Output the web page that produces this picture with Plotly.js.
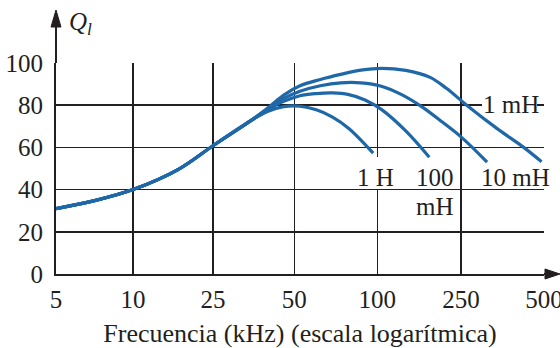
<!DOCTYPE html>
<html>
<head>
<meta charset="utf-8">
<script src="https://cdn.plot.ly/plotly-3.0.1.min.js"></script>
<style>html,body{margin:0;padding:0;background:#fff;}#chart{width:560px;height:348px;}</style>
</head>
<body>
<div id="chart"></div>
<script>
// Frequency tick labels (kHz); positions as drawn in the reference (nearly equal steps)
const freqLabels = ['5', '10', '25', '50', '100', '250', '500'];
const freqPos = [0, 0.947, 1.93, 2.93, 3.95, 4.98, 6];
const qTicks = [0, 20, 40, 60, 80, 100];

// Common rising part (position on frequency scale, Q)
const commonPos = [0, 0.5, 0.947, 1.5, 1.93, 2.4];
const commonQ   = [31, 35, 40, 49.5, 60.8, 72.8];

// Branches per inductance
const pos1H   = [2.6, 2.8, 3.0, 3.2, 3.4, 3.6, 3.9];
const q1H     = [77, 79.3, 79.5, 77.8, 74.4, 69, 57.3];

const pos100mH = [2.6, 2.8, 3.0, 3.2, 3.4, 3.6, 3.8, 4.0, 4.3, 4.59];
const q100mH   = [77.8, 81.8, 84.5, 85.5, 85.8, 85, 82.5, 78, 67.8, 55.3];

const pos10mH = [2.6, 2.8, 3.0, 3.25, 3.5, 3.75, 4.0, 4.25, 4.5, 4.75, 5.0, 5.3];
const q10mH   = [78.2, 83.2, 86.6, 89.2, 90.6, 90.6, 89, 85, 79.2, 72, 64.3, 53];

const pos1mH = [2.6, 2.8, 3.0, 3.25, 3.5, 3.75, 4.0, 4.3, 4.6, 4.8, 5.05, 5.42, 5.75, 5.97];
const q1mH   = [78.6, 84.8, 89.2, 92.2, 94.6, 96.6, 97.5, 96.5, 93.2, 88, 80, 69, 60, 53.2];

const labels = ['1 mH', '1 H', '100', 'mH', '10 mH'];
const labelPos = [5.6, 3.93, 4.66, 4.66, 5.65];
const labelQ = [80.5, 45.7, 45.7, 32.2, 45.7];

const blue = '#1f68a8';
const ink = '#231f20';
const fontFam = 'Liberation Serif, Times New Roman, serif';

function series(p, q) {
  return {
    x: commonPos.concat(p),
    y: commonQ.concat(q),
    type: 'scatter',
    mode: 'lines',
    line: {color: blue, width: 3.2, shape: 'spline', smoothing: 1},
    hoverinfo: 'skip'
  };
}

const data = [
  series(pos1mH, q1mH),
  series(pos10mH, q10mH),
  series(pos100mH, q100mH),
  series(pos1H, q1H)
];

// plot area in pixels: left 56, right 544, top 63, bottom 274
const L = 56, R = 544, T = 63, B = 274, W = 560, H = 348;
const px = v => (v - L) / (R - L);
const py = v => (B - v) / (B - T);

const annotations = labels.map((t, i) => ({
  x: labelPos[i], y: labelQ[i], xref: 'x', yref: 'y',
  text: t, showarrow: false,
  font: {family: fontFam, size: 25, color: ink},
  xanchor: 'center', yanchor: 'middle'
}));
annotations.push({
  x: px(67), y: py(24), xref: 'paper', yref: 'paper',
  text: '<i>Q</i><sub><i>l</i></sub>', showarrow: false,
  xanchor: 'left', yanchor: 'middle',
  font: {family: fontFam, size: 25, color: ink}
});

function cover(x0, x1, y0, y1) {
  return {type: 'rect', layer: 'above', xref: 'paper', yref: 'paper',
          x0: px(x0), x1: px(x1), y0: py(y1), y1: py(y0),
          fillcolor: '#ffffff', line: {width: 0}};
}

const shapes = [
  // gaps in the grid behind the curve labels
  cover(482, 537, 101, 110),
  cover(374, 381, 157, 189),
  cover(539, 549, 167, 188),
  // y axis extension
  {type: 'line', xref: 'paper', yref: 'paper', x0: 0, x1: 0, y0: 1, y1: py(22),
   line: {color: ink, width: 2}},
  {type: 'path', xref: 'paper', yref: 'paper',
   path: `M ${px(51)} ${py(27)} L ${px(56)} ${py(10)} L ${px(61)} ${py(27)} Z`,
   fillcolor: ink, line: {color: ink, width: 1}},
  // x axis extension
  {type: 'line', xref: 'paper', yref: 'paper', x0: 1, x1: px(550), y0: 0, y1: 0,
   line: {color: ink, width: 2}},
  {type: 'path', xref: 'paper', yref: 'paper',
   path: `M ${px(545)} ${py(269)} L ${px(560)} ${py(274)} L ${px(545)} ${py(279)} Z`,
   fillcolor: ink, line: {color: ink, width: 1}}
];

const layout = {
  width: W, height: H,
  margin: {l: L, r: W - R, t: T, b: H - B, pad: 0},
  paper_bgcolor: '#ffffff', plot_bgcolor: '#ffffff',
  showlegend: false,
  font: {family: fontFam, size: 25, color: ink},
  xaxis: {
    range: [0, 6], tickmode: 'array', tickvals: freqPos, ticktext: freqLabels,
    showgrid: true, gridcolor: ink, gridwidth: 1.5,
    zeroline: false, showline: true, linecolor: ink, linewidth: 2,
    ticks: '', ticklabelstandoff: 2, ticklabeloverflow: 'allow',
    tickfont: {family: fontFam, size: 25, color: ink},
    title: {text: 'Frecuencia (kHz) (escala logarítmica)', standoff: 13,
            font: {family: fontFam, size: 26, color: ink}},
    fixedrange: true
  },
  yaxis: {
    range: [0, 100], tickmode: 'array', tickvals: qTicks,
    showgrid: true, gridcolor: ink, gridwidth: 1.5,
    zeroline: false, showline: true, linecolor: ink, linewidth: 2,
    ticks: '', ticklabelstandoff: 6, ticklabeloverflow: 'allow',
    tickfont: {family: fontFam, size: 25, color: ink},
    fixedrange: true
  },
  annotations: annotations,
  shapes: shapes
};

Plotly.newPlot('chart', data, layout, {displayModeBar: false, staticPlot: true});
</script>
</body>
</html>
